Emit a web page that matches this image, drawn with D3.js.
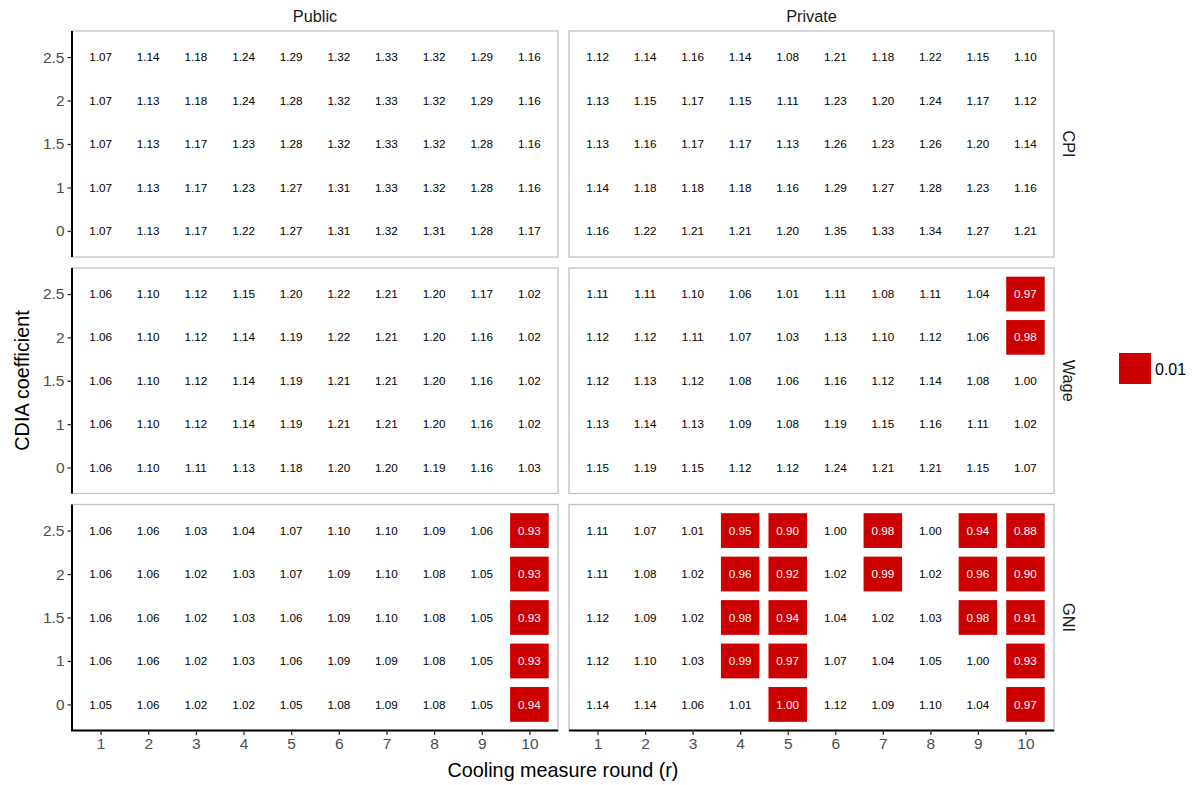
<!DOCTYPE html>
<html>
<head>
<meta charset="utf-8">
<script src="https://cdn.jsdelivr.net/npm/d3@7"></script>
<style>
  html, body { margin: 0; padding: 0; background: #fff; }
  svg { display: block; font-family: "Liberation Sans", Arial, sans-serif; }
</style>
</head>
<body>
<svg id="chart" width="1192" height="785"></svg>
<script>
// ---- data ----
const rounds = ["1","2","3","4","5","6","7","8","9","10"];
const cdiaLevels = ["2.5","2","1.5","1","0"];   // top to bottom
const sectors = ["Public","Private"];
const measures = ["CPI","Wage","GNI"];

// rows follow cdiaLevels order (2.5, 2, 1.5, 1, 0)
const publicCPI = [
  [1.07,1.14,1.18,1.24,1.29,1.32,1.33,1.32,1.29,1.16],
  [1.07,1.13,1.18,1.24,1.28,1.32,1.33,1.32,1.29,1.16],
  [1.07,1.13,1.17,1.23,1.28,1.32,1.33,1.32,1.28,1.16],
  [1.07,1.13,1.17,1.23,1.27,1.31,1.33,1.32,1.28,1.16],
  [1.07,1.13,1.17,1.22,1.27,1.31,1.32,1.31,1.28,1.17]
];
const privateCPI = [
  [1.12,1.14,1.16,1.14,1.08,1.21,1.18,1.22,1.15,1.10],
  [1.13,1.15,1.17,1.15,1.11,1.23,1.20,1.24,1.17,1.12],
  [1.13,1.16,1.17,1.17,1.13,1.26,1.23,1.26,1.20,1.14],
  [1.14,1.18,1.18,1.18,1.16,1.29,1.27,1.28,1.23,1.16],
  [1.16,1.22,1.21,1.21,1.20,1.35,1.33,1.34,1.27,1.21]
];
const publicWage = [
  [1.06,1.10,1.12,1.15,1.20,1.22,1.21,1.20,1.17,1.02],
  [1.06,1.10,1.12,1.14,1.19,1.22,1.21,1.20,1.16,1.02],
  [1.06,1.10,1.12,1.14,1.19,1.21,1.21,1.20,1.16,1.02],
  [1.06,1.10,1.12,1.14,1.19,1.21,1.21,1.20,1.16,1.02],
  [1.06,1.10,1.11,1.13,1.18,1.20,1.20,1.19,1.16,1.03]
];
const privateWage = [
  [1.11,1.11,1.10,1.06,1.01,1.11,1.08,1.11,1.04,0.97],
  [1.12,1.12,1.11,1.07,1.03,1.13,1.10,1.12,1.06,0.98],
  [1.12,1.13,1.12,1.08,1.06,1.16,1.12,1.14,1.08,1.00],
  [1.13,1.14,1.13,1.09,1.08,1.19,1.15,1.16,1.11,1.02],
  [1.15,1.19,1.15,1.12,1.12,1.24,1.21,1.21,1.15,1.07]
];
const publicGNI = [
  [1.06,1.06,1.03,1.04,1.07,1.10,1.10,1.09,1.06,0.93],
  [1.06,1.06,1.02,1.03,1.07,1.09,1.10,1.08,1.05,0.93],
  [1.06,1.06,1.02,1.03,1.06,1.09,1.10,1.08,1.05,0.93],
  [1.06,1.06,1.02,1.03,1.06,1.09,1.09,1.08,1.05,0.93],
  [1.05,1.06,1.02,1.02,1.05,1.08,1.09,1.08,1.05,0.94]
];
const privateGNI = [
  [1.11,1.07,1.01,0.95,0.90,1.00,0.98,1.00,0.94,0.88],
  [1.11,1.08,1.02,0.96,0.92,1.02,0.99,1.02,0.96,0.90],
  [1.12,1.09,1.02,0.98,0.94,1.04,1.02,1.03,0.98,0.91],
  [1.12,1.10,1.03,0.99,0.97,1.07,1.04,1.05,1.00,0.93],
  [1.14,1.14,1.06,1.01,1.00,1.12,1.09,1.10,1.04,0.97]
];

// significance flags (p < 0.01), same layout
const zeroFlags = [
  [0,0,0,0,0,0,0,0,0,0],
  [0,0,0,0,0,0,0,0,0,0],
  [0,0,0,0,0,0,0,0,0,0],
  [0,0,0,0,0,0,0,0,0,0],
  [0,0,0,0,0,0,0,0,0,0]
];
const privateWageSig = [
  [0,0,0,0,0,0,0,0,0,1],
  [0,0,0,0,0,0,0,0,0,1],
  [0,0,0,0,0,0,0,0,0,0],
  [0,0,0,0,0,0,0,0,0,0],
  [0,0,0,0,0,0,0,0,0,0]
];
const publicGNISig = [
  [0,0,0,0,0,0,0,0,0,1],
  [0,0,0,0,0,0,0,0,0,1],
  [0,0,0,0,0,0,0,0,0,1],
  [0,0,0,0,0,0,0,0,0,1],
  [0,0,0,0,0,0,0,0,0,1]
];
const privateGNISig = [
  [0,0,0,1,1,0,1,0,1,1],
  [0,0,0,1,1,0,1,0,1,1],
  [0,0,0,1,1,0,0,0,1,1],
  [0,0,0,1,1,0,0,0,0,1],
  [0,0,0,0,1,0,0,0,0,1]
];
const legendLabels = ["0.01"];

const panelValues = {
  "CPI|Public": publicCPI, "CPI|Private": privateCPI,
  "Wage|Public": publicWage, "Wage|Private": privateWage,
  "GNI|Public": publicGNI, "GNI|Private": privateGNI
};
const panelSig = {
  "CPI|Public": zeroFlags, "CPI|Private": zeroFlags,
  "Wage|Public": zeroFlags, "Wage|Private": privateWageSig,
  "GNI|Public": publicGNISig, "GNI|Private": privateGNISig
};

// ---- layout ----
const svg = d3.select("#chart");
const colX = [[72, 558], [569, 1054]];
const rowY = [[31, 257], [268, 493.5], [504.5, 730.5]];
const red = "#CC0000";
const borderCol = "#C2C2C2";
const tickFont = 15.5, stripFont = 16.3, titleFont = 19.8, cellFont = 11.7;

sectors.forEach((sec, ci) => {
  measures.forEach((mea, ri) => {
    const [x0, x1] = colX[ci];
    const [y0, y1] = rowY[ri];
    const x = d3.scalePoint().domain(rounds).range([x0, x1]).padding(0.6);
    const y = d3.scalePoint().domain(cdiaLevels).range([y0, y1]).padding(0.6);
    const tw = x.step() * 0.81, th = y.step() * 0.8;
    const g = svg.append("g");

    g.append("rect").attr("x", x0).attr("y", y0)
      .attr("width", x1 - x0).attr("height", y1 - y0)
      .attr("fill", "#fff").attr("stroke", borderCol).attr("stroke-width", 1.3);

    const vals = panelValues[mea + "|" + sec];
    const sig = panelSig[mea + "|" + sec];
    const cells = [];
    cdiaLevels.forEach((lv, i) => rounds.forEach((r, j) => {
      cells.push({ r, lv, v: vals[i][j], s: sig[i][j] });
    }));

    g.selectAll("rect.tile").data(cells.filter(d => d.s)).enter()
      .append("rect").attr("class", "tile")
      .attr("x", d => x(d.r) - tw / 2).attr("y", d => y(d.lv) - th / 2)
      .attr("width", tw).attr("height", th).attr("fill", red);

    g.selectAll("text.lab").data(cells).enter()
      .append("text").attr("class", "lab")
      .attr("x", d => x(d.r)).attr("y", d => y(d.lv))
      .attr("dy", "0.35em").attr("text-anchor", "middle")
      .attr("font-size", cellFont)
      .attr("fill", d => d.s ? "#fff" : "#000")
      .text(d => d.v.toFixed(2));

    // left axis
    if (ci === 0) {
      const ax = g.append("g").attr("transform", `translate(${x0},0)`)
        .call(d3.axisLeft(y).tickSize(4.5).tickPadding(3));
      ax.select(".domain").attr("stroke", "#000").attr("stroke-width", 2)
        .attr("d", `M0,${y0}V${y1}`);
      ax.selectAll(".tick line").attr("stroke", "#333").attr("stroke-width", 1.3);
      ax.selectAll(".tick text").attr("fill", "#4D4D4D").attr("font-size", tickFont)
        .attr("font-family", "Liberation Sans, Arial, sans-serif");
    }
    // bottom axis
    if (ri === 2) {
      const ax = g.append("g").attr("transform", `translate(0,${y1})`)
        .call(d3.axisBottom(x).tickSize(4.5).tickPadding(3));
      ax.select(".domain").attr("stroke", "#000").attr("stroke-width", 2)
        .attr("d", `M${ci === 0 ? x0 - 1 : x0},0H${x1}`);
      ax.selectAll(".tick line").attr("stroke", "#333").attr("stroke-width", 1.3);
      ax.selectAll(".tick text").attr("fill", "#4D4D4D").attr("font-size", tickFont)
        .attr("font-family", "Liberation Sans, Arial, sans-serif");
    }
    // top strip
    if (ri === 0) {
      svg.append("text").attr("x", (x0 + x1) / 2).attr("y", 16)
        .attr("dy", "0.35em").attr("text-anchor", "middle")
        .attr("font-size", stripFont).attr("fill", "#1A1A1A").text(sec);
    }
    // right strip
    if (ci === 1) {
      const cy = (y0 + y1) / 2;
      svg.append("text").attr("transform", `translate(1069,${cy}) rotate(90)`)
        .attr("dy", "0.35em").attr("text-anchor", "middle")
        .attr("font-size", stripFont).attr("fill", "#1A1A1A").text(mea);
    }
  });
});

// axis titles
svg.append("text").attr("x", (72 + 1054) / 2).attr("y", 770.5)
  .attr("dy", "0.35em").attr("text-anchor", "middle")
  .attr("font-size", titleFont).attr("fill", "#000").text("Cooling measure round (r)");
svg.append("text").attr("transform", `translate(22,${(31 + 730) / 2}) rotate(-90)`)
  .attr("dy", "0.35em").attr("text-anchor", "middle")
  .attr("font-size", titleFont).attr("fill", "#000").text("CDIA coefficient");

// legend
const lg = svg.append("g").attr("transform", "translate(1119,353)");
lg.selectAll("rect").data(legendLabels).enter().append("rect")
  .attr("x", 0).attr("y", (d, i) => i * 32).attr("width", 32).attr("height", 31).attr("fill", red);
lg.selectAll("text").data(legendLabels).enter().append("text")
  .attr("x", 36).attr("y", (d, i) => i * 32 + 16).attr("dy", "0.35em")
  .attr("font-size", 16).attr("fill", "#000").text(d => d);
</script>
</body>
</html>
